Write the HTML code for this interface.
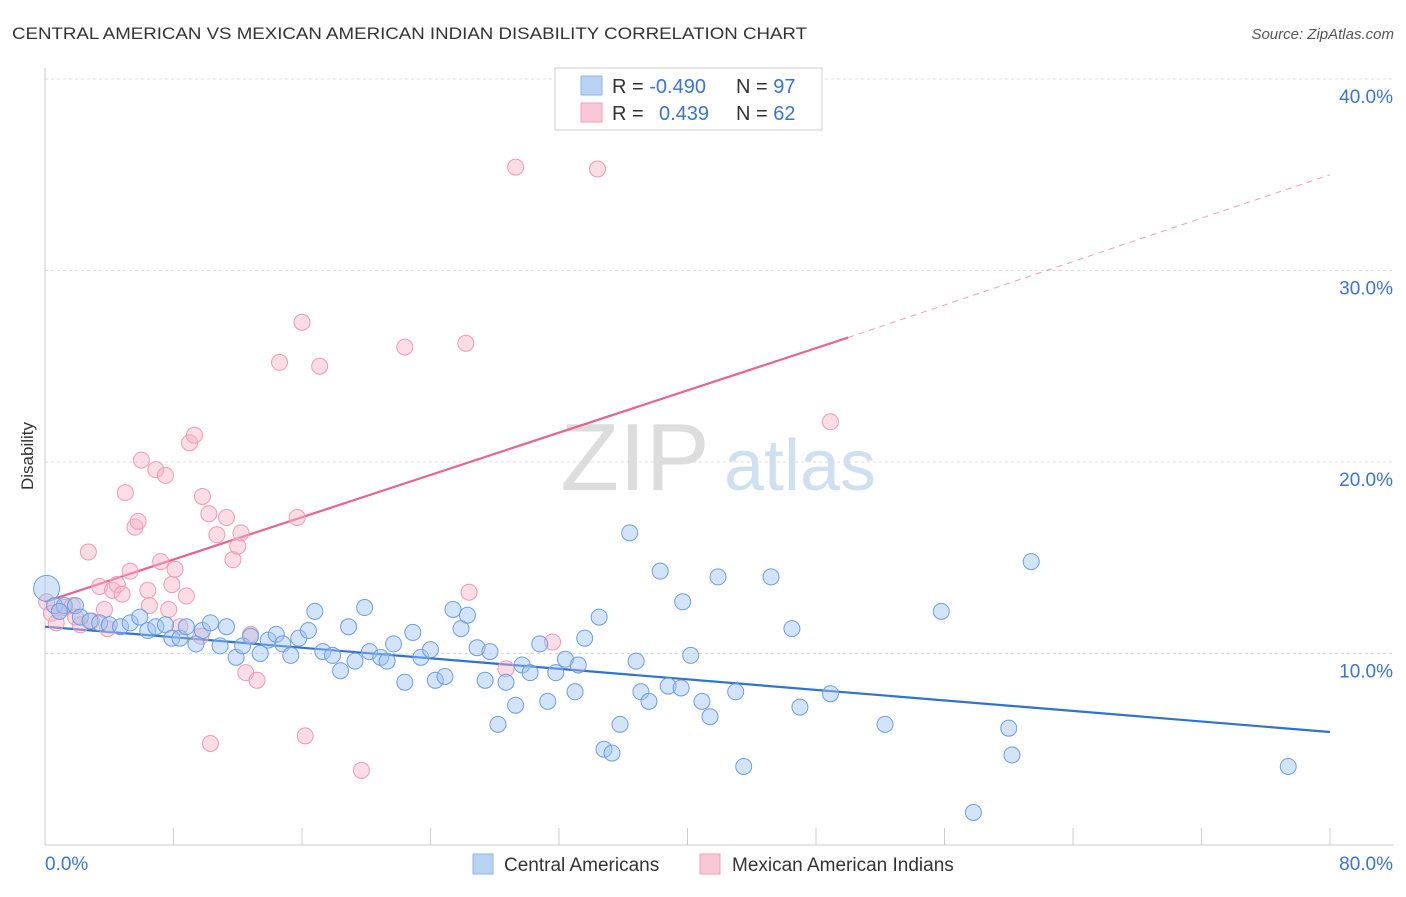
<!DOCTYPE html>
<html><head><meta charset="utf-8"><style>
body{margin:0;background:#fff;font-family:"Liberation Sans",sans-serif}
svg text{font-family:"Liberation Sans",sans-serif}
</style></head><body>
<svg id="chart" width="1406" height="892">
<text x="12" y="39" font-size="17" fill="#333" textLength="795" lengthAdjust="spacingAndGlyphs">CENTRAL AMERICAN VS MEXICAN AMERICAN INDIAN DISABILITY CORRELATION CHART</text>
<text x="1394" y="39" font-size="15" fill="#555" text-anchor="end" font-style="italic">Source: ZipAtlas.com</text>
<text x="33" y="456" font-size="17" fill="#333" text-anchor="middle" transform="rotate(-90 33 456)">Disability</text>
<g><text x="635" y="490" font-size="96" fill="#ddd" text-anchor="middle" font-family="Liberation Serif">ZIP</text><text x="800" y="490" font-size="72" fill="#cfe0f3" text-anchor="middle">atlas</text></g>
<g id="grid"></g><g id="axes"></g><g id="lines"></g><g id="pts"></g>
<g>
<rect x="555" y="68" width="267" height="62" fill="#fff" stroke="#ccc"/>
<rect x="581" y="76" width="21" height="19" fill="#b9d3f5" stroke="#8fb6e8"/>
<rect x="581" y="103" width="21" height="19" fill="#fac7d6" stroke="#f0a0b8"/>
<text x="612" y="93" font-size="20" fill="#333">R = <tspan fill="#3a74d0">-0.490</tspan></text>
<text x="736" y="93" font-size="20" fill="#333">N = <tspan fill="#3a74d0">97</tspan></text>
<text x="612" y="120" font-size="20" fill="#333">R = <tspan fill="#3a74d0" x="659">0.439</tspan></text>
<text x="736" y="120" font-size="20" fill="#333">N = <tspan fill="#3a74d0">62</tspan></text>
</g>
<g>
<rect x="473" y="854" width="20" height="20" fill="#b9d3f5" stroke="#8fb6e8"/>
<text x="504" y="871" font-size="19" fill="#333">Central Americans</text>
<rect x="700" y="854" width="20" height="20" fill="#fac7d6" stroke="#f0a0b8"/>
<text x="732" y="871" font-size="19" fill="#333">Mexican American Indians</text>
</g>
</svg>
<script>
const blueX=[0.1,0.6,1.2,1.9,0.9,2.2,2.8,3.4,4.0,4.7,5.3,5.9,6.4,6.9,7.5,7.9,8.4,8.8,9.4,9.8,10.3,10.9,11.3,11.9,12.3,12.8,13.4,13.9,14.4,14.8,15.3,15.8,16.4,16.8,17.3,17.9,18.4,18.9,19.3,19.9,20.2,20.9,21.3,21.7,22.4,22.9,23.4,24.0,24.3,24.9,25.4,25.9,26.3,26.9,27.4,27.7,28.2,28.7,29.3,29.7,30.2,30.8,31.3,31.8,32.4,33.0,33.2,33.6,34.5,34.8,35.3,35.8,36.4,36.8,37.1,37.6,38.3,38.8,39.6,39.7,40.2,40.9,41.4,41.9,43.0,43.5,45.2,46.5,47.0,48.9,52.3,55.8,57.8,60.0,60.2,61.4,77.4];
const blueY=[13.4,12.5,12.5,12.5,12.2,11.9,11.7,11.6,11.5,11.4,11.6,11.9,11.2,11.4,11.5,10.8,10.8,11.4,10.5,11.2,11.6,10.4,11.4,9.8,10.4,10.9,10.0,10.7,11.0,10.5,9.9,10.8,11.2,12.2,10.1,9.9,9.1,11.4,9.6,12.4,10.1,9.8,9.6,10.5,8.5,11.1,9.8,10.2,8.6,8.8,12.3,11.3,12.0,10.3,8.6,10.1,6.3,8.5,7.3,9.4,9.0,10.5,7.5,9.0,9.7,8.0,9.4,10.8,11.9,5.0,4.8,6.3,16.3,9.6,8.0,7.5,14.3,8.3,8.2,12.7,9.9,7.5,6.7,14.0,8.0,4.1,14.0,11.3,7.2,7.9,6.3,12.2,1.7,6.1,4.7,14.8,4.1];
const pinkX=[0.1,0.4,0.7,0.9,1.2,1.7,1.9,2.2,2.7,2.9,3.4,3.7,3.9,4.2,4.5,4.8,5.0,5.3,5.6,5.8,6.0,6.4,6.5,6.9,7.2,7.5,7.7,7.9,8.1,8.4,8.8,9.0,9.3,9.7,9.8,10.2,10.3,10.7,11.3,11.7,12.0,12.2,12.5,12.8,13.2,14.6,15.7,16.0,16.2,17.1,19.7,22.4,26.2,26.4,28.7,29.3,31.6,34.4,48.9];
const pinkY=[12.7,12.1,11.6,12.2,12.4,12.5,11.9,11.5,15.3,11.7,13.5,12.3,11.3,13.3,13.6,13.1,18.4,14.3,16.6,16.9,20.1,13.3,12.5,19.6,14.8,19.3,12.3,13.6,14.4,11.4,13.0,21.0,21.4,10.9,18.2,17.3,5.3,16.2,17.1,14.9,15.6,16.3,9.0,11.0,8.6,25.2,17.1,27.3,5.7,25.0,3.9,26.0,26.2,13.2,9.2,35.4,10.6,35.3,22.1];
const blueTrend=[[0,11.4],[80,5.9]];
const pinkTrend=[[0,12.7],[50,26.5],[80,35.0]];
const yTicks=[10,20,30,40];
const xTicks=[0,8,16,24,32,40,48,56,64,72,80];
const NS="http://www.w3.org/2000/svg";
const sx=v=>45+v*(1285/80), sy=v=>845-v*19.15;
function mk(tag,attrs,parent){const e=document.createElementNS(NS,tag);for(const k in attrs)e.setAttribute(k,attrs[k]);document.getElementById(parent).appendChild(e);return e;}
yTicks.forEach(t=>{
 const l=mk('line',{x1:45,x2:1394,y1:sy(t),y2:sy(t),stroke:'#ddd','stroke-dasharray':'3,3'},'grid');
 
 
 const tx=mk('text',{x:1393,y:sy(t)+24,'font-size':19,fill:'#3a74d0','text-anchor':'end'},'grid');tx.textContent=t.toFixed(1)+'%';
 
 
});
mk('line',{x1:45,x2:45,y1:68,y2:845,stroke:'#ccc'},'axes');
mk('line',{x1:45,x2:1394,y1:845,y2:845,stroke:'#ccc'},'axes');
xTicks.forEach(t=>{const l=mk('line',{x1:sx(t),x2:sx(t),y1:828,y2:845,stroke:'#ccc'},'axes');
 
 });
[[0,'start'],[80,'end']].forEach(([t,a])=>{const tx=mk('text',{x:t==0?45:1393,y:870,'font-size':19,fill:'#3a74d0','text-anchor':a},'axes');tx.textContent=t.toFixed(1)+'%';
 
 });
function dot(x,y,fill,stroke,name){const c=mk('circle',{cx:sx(x),cy:sy(y),r:8,fill:fill,stroke:stroke,'stroke-width':1},'pts');
 
 }
pinkX.forEach((x,i)=>dot(x,pinkY[i],'rgba(248,180,200,0.45)','#ee9ab4','mexican-american-indian-point'));
blueX.forEach((x,i)=>dot(x,blueY[i],'rgba(160,196,240,0.45)','#6b9ee0','central-american-point'));
const big=document.querySelector('#pts circle:nth-child('+(pinkX.length+1)+')');big.setAttribute('r',13);
const bl=mk('line',{x1:sx(blueTrend[0][0]),y1:sy(blueTrend[0][1]),x2:sx(blueTrend[1][0]),y2:sy(blueTrend[1][1]),stroke:'#2e72d2','stroke-width':2.2},'lines');


const pl=mk('line',{x1:sx(pinkTrend[0][0]),y1:sy(pinkTrend[0][1]),x2:sx(pinkTrend[1][0]),y2:sy(pinkTrend[1][1]),stroke:'#e8648f','stroke-width':2.2},'lines');


const pd=mk('line',{x1:sx(pinkTrend[1][0]),y1:sy(pinkTrend[1][1]),x2:sx(pinkTrend[2][0]),y2:sy(pinkTrend[2][1]),stroke:'#eca0b8','stroke-width':1,'stroke-dasharray':'6,5'},'lines');


</script>
</body></html>
